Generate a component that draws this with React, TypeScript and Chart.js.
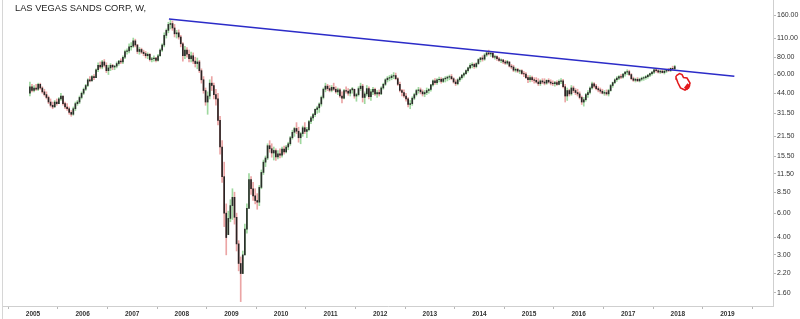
import React, { useEffect, useRef } from "react";
import { Chart, registerables } from "chart.js";

Chart.register(...registerables);

const chartTitle = "LAS VEGAS SANDS CORP, W,";

// x axis (decimal years) and right log price axis ticks
const yearTicks = [2005, 2006, 2007, 2008, 2009, 2010, 2011, 2012, 2013, 2014, 2015, 2016, 2017, 2018, 2019];
const priceTicks = [1.6, 2.2, 3, 4, 6, 8.5, 11.5, 15.5, 21.5, 31.5, 44, 60, 80, 110, 160];
const xMin = 2004.395;
const xMax = 2019.919;
const yMin = 1.283;
const yMax = 207;

// first bar: second half of December 2004, one bar per half-month
const startYear = 2004;
const startSlot = 22;
const firstOpen = 44;

const highs = [
  53, 51,
  50, 51, 52, 52, 49, 47, 45, 42, 40, 38, 39, 40, 41, 44, 42, 38, 37, 35, 33, 35, 38, 39, 42, 45,
  48, 51, 56, 58, 59, 60, 66, 73, 74, 76, 77, 73, 70, 72, 71, 70, 74, 76, 78, 82, 90, 92, 100, 102,
  110, 108, 99, 94, 93, 90, 88, 86, 85, 80, 82, 80, 84, 92, 100, 120, 128, 143, 148, 146, 138, 125, 126, 115,
  102, 96, 94, 90, 87, 86, 80, 79, 76, 66, 58, 48, 45, 55, 58, 52, 47, 44, 30, 20, 14, 7, 6.2, 7.5,
  9, 8.5, 6, 3.8, 2.9, 3.2, 5, 7, 11.6, 11, 10, 9, 8.3, 9.5, 12.3, 14.5, 15.5, 19, 20, 19, 18, 17.5, 17, 17.5,
  18, 18.3, 18.5, 19.5, 21.5, 23.8, 25, 27, 25, 23, 25.5, 27, 25, 28, 30, 31.5, 34, 35.5, 37.5, 42, 48, 52, 51, 50,
  50, 52, 49, 48, 47.5, 45, 47, 49, 47.5, 47, 48.5, 47, 44, 49, 52, 51, 45, 50, 49, 47, 48.5, 48, 46, 46.5,
  49, 52, 56, 58, 59, 60, 62, 61.5, 57, 53, 47, 46.5, 44, 41, 39, 41.5, 44, 47, 48.5, 48, 46.5, 46, 48, 47.5,
  51, 55, 56, 56, 57.5, 57, 56.5, 58, 58.5, 59.5, 60, 57, 55, 56, 58, 60, 62, 65, 68, 72, 73, 72.5, 73, 78,
  80, 82, 85, 88, 90, 87, 87.5, 83, 82, 80, 78, 77, 76, 76, 74, 71, 70, 67, 66.5, 65, 65, 63, 62, 59,
  59, 58.5, 57, 57, 56, 55, 56, 56, 55, 56, 55, 54, 53.5, 54, 55, 56, 55.5, 51, 48, 47, 50, 49.5, 47.5, 47,
  45, 42, 41, 44, 46, 49, 53, 52.5, 51, 49, 48, 47, 46, 46.5, 47, 51, 53, 56, 58, 59, 60, 61, 63, 65,
  64.5, 61, 57.5, 56.5, 57, 56.5, 57.5, 58, 59, 60, 61.5, 63, 66, 66.5, 65, 64.5, 65, 64.5, 65.5, 66.5, 67, 69, 70,
];

const lows = [
  42, 45,
  45, 46, 46, 47, 44, 42, 40, 37, 35, 34, 35, 36, 37, 39, 36, 34, 33, 31, 30, 30.5, 33, 36, 37, 40,
  43, 46, 49, 53, 54, 55, 57, 63, 66, 66, 68, 62, 60, 64, 65, 65, 67, 70, 72, 72, 78, 84, 86, 90,
  94, 95, 85, 84, 85, 82, 79, 78, 75, 74, 75, 74, 75, 81, 88, 95, 110, 120, 128, 125, 112, 110, 108, 95,
  75, 78, 80, 74, 74, 72, 68, 66, 62, 52, 44, 36, 31, 40, 46, 40, 36, 26, 16, 10, 4.8, 3, 4.2, 5.2,
  5.4, 5, 3.2, 2.3, 1.38, 2.2, 3, 4.3, 6.5, 8.2, 7.4, 7, 6.4, 6.8, 9, 11.4, 13, 14.6, 16.5, 15.2, 14.5, 14.4, 14.8, 15,
  15.2, 16, 16.3, 17.2, 18.5, 20.5, 21.5, 22.5, 19.5, 19, 21.5, 22.5, 21, 23.5, 26.5, 28, 29.8, 31.5, 32, 35.5, 40, 45, 46, 45,
  45, 46, 44, 43, 41, 37.5, 40, 44, 42.5, 42, 44, 40.5, 38.5, 42, 46, 38, 37, 42, 40, 39, 43, 42.5, 41, 42,
  43, 47, 50, 53, 54, 55, 56, 55, 50, 45, 42, 41, 38.5, 35, 34, 36, 39.5, 42, 44, 43.5, 42, 41.5, 43, 44,
  45.5, 49.5, 51, 51, 53, 52, 52.5, 53, 54, 55, 55, 52, 50, 50.5, 53.5, 55.5, 57.5, 60, 62.5, 66, 67, 66.5, 67, 71,
  74, 75, 76, 81, 83, 81, 79, 77.5, 76, 74.5, 73, 72, 71, 71, 68, 66, 63, 62.5, 62, 61, 60, 58, 56, 52.5,
  53, 53.5, 52, 52, 50, 50, 51.5, 50.5, 51, 52, 50.5, 50, 49.5, 50, 50.5, 51.5, 48, 38, 39, 42, 42.5, 44.5, 43, 42,
  40, 36.5, 35.5, 38.5, 41, 43.5, 47, 48, 46.5, 45, 44, 43.5, 42.5, 42.5, 42, 45.5, 48.5, 51.5, 53.5, 55, 56, 56.5, 58.5, 60,
  59, 55, 53.5, 53, 53.5, 53, 54, 54.5, 55.5, 56.5, 58, 59.5, 61, 62.5, 61.5, 61, 61.5, 60.5, 62, 63, 63, 64.5, 65,
];

const closes = [
  49, 46,
  48, 47, 51, 48, 45, 43, 41, 38, 36, 35, 38, 37, 40, 42, 37, 35, 34, 32, 31, 34, 37, 38, 41, 44,
  47, 50, 55, 54, 58, 57, 65, 70, 68, 74, 70, 64, 67, 70, 68, 69, 72, 75, 74, 80, 88, 89, 95, 96,
  105, 98, 88, 91, 87, 85, 82, 84, 77, 78, 79, 76, 82, 90, 98, 115, 125, 138, 140, 130, 118, 120, 112, 100,
  82, 90, 84, 78, 82, 75, 72, 74, 64, 55, 46, 38, 42, 52, 50, 43, 40, 28, 18, 11, 6, 4, 5.5, 6.8,
  7.8, 5.6, 3.6, 2.6, 2.2, 3, 4.6, 6.5, 10.5, 9, 8, 7.4, 7.2, 9.2, 11.8, 14, 15, 18.4, 17.5, 16.3, 17, 15.3, 16.1, 15.7,
  17.4, 16.6, 18, 19, 21, 23, 24.5, 23.4, 21, 22.5, 24.8, 23.3, 24, 27.5, 29.2, 30.8, 33.6, 34.5, 36.8, 41, 47, 49.5, 47.5, 46.2,
  48.5, 47, 45, 46.5, 42, 40.5, 46, 45.5, 44, 46.5, 47.5, 42, 43, 47.5, 49.5, 41, 43.5, 47.5, 41.5, 45, 47, 43.5, 44.5, 43.5,
  48, 51, 55, 56.5, 57, 58.5, 59, 56, 51, 46, 44.5, 42, 40, 36.5, 37, 40.5, 43, 46, 46.5, 45, 43.5, 44.5, 46, 46.8,
  50.5, 54, 52.5, 55, 55.5, 53.5, 55.8, 56.5, 57.5, 58, 56, 53, 51.5, 55, 57, 59.5, 61, 64, 67, 70, 71, 68.5, 72, 77,
  79, 77.5, 83, 86, 84.5, 85.5, 80, 81, 78, 76, 76.5, 74, 72.5, 74.5, 69, 68, 64.5, 65.5, 63.5, 64, 61, 60.5, 57, 55,
  57, 55, 54.5, 53, 51.5, 54, 53, 52, 54.5, 53, 52, 51.5, 52.5, 51, 53.5, 54, 49, 42, 46, 43.5, 48, 46, 44.5, 43.5,
  41, 38, 39.5, 43, 44.5, 48, 51.5, 49.5, 47.5, 46.5, 45.5, 44, 44.5, 43.5, 46, 50, 52.5, 55, 56.5, 58, 57.5, 60.5, 62.5, 63,
  60, 56, 54.5, 55.5, 54, 55.5, 56.5, 57, 58, 59.5, 61, 62.5, 65, 64, 62.5, 63.5, 62, 63.5, 64.5, 64, 66.5, 66, 68.5,
];

// drawn resistance line (from the 2007 top)
const trendX = [2007.74, 2019.14];
const trendY = [151, 58.3];

// red hand-drawn marker
const markerX = [2017.964, 2018.034, 2018.085, 2018.115, 2018.185, 2018.246, 2018.216, 2018.145, 2018.054, 2018.004, 2017.974, 2017.964];
const markerY = [58.6, 61.0, 60.0, 57.1, 56.6, 52.1, 48.0, 46.4, 48.0, 52.1, 55.7, 58.6];
const markerFillX = [2018.155, 2018.226];
const markerFillY = [47.2, 50.8];

export default function App() {
  const ref = useRef<HTMLCanvasElement>(null);

  useEffect(() => {
    document.body.style.margin = "0";
    const n = Math.min(highs.length, lows.length, closes.length);
    const wick: any[] = [];
    const body: any[] = [];
    const wickColors: string[] = [];
    const bodyColors: string[] = [];
    for (let i = 0; i < n; i++) {
      const t = startYear + (startSlot + i + 0.5) / 24;
      const open = i === 0 ? firstOpen : closes[i - 1];
      const c = closes[i];
      const up = c >= open;
      wick.push({ x: t, y: [lows[i], highs[i]] });
      const lo = Math.max(lows[i], Math.min(open, c));
      const hi = Math.min(highs[i], Math.max(open, c));
      body.push({ x: t, y: [lo, hi] });
      wickColors.push(up ? "#9fd89f" : "#eba5a5");
      bodyColors.push(up ? "#2b2f2b" : "#2a2424");
    }
    const trend = trendX.map((x, i) => ({ x, y: trendY[i] }));
    const marker = markerX.map((x, i) => ({ x, y: markerY[i] }));
    const markerFill = markerFillX.map((x, i) => ({ x, y: markerFillY[i] }));

    const frame = {
      id: "frame",
      beforeDraw(chart: any) {
        const ctx = chart.ctx;
        ctx.save();
        ctx.strokeStyle = "#d6d6d6";
        ctx.lineWidth = 1;
        ctx.beginPath();
        ctx.moveTo(2.5, 0);
        ctx.lineTo(2.5, chart.height);
        ctx.stroke();
        ctx.restore();
      },
    };

    const chart = new Chart(ref.current as HTMLCanvasElement, {
      type: "bar",
      data: {
        datasets: [
          { type: "line", data: trend, borderColor: "#2c2cc8", borderWidth: 1.7, pointRadius: 0, fill: false } as any,
          { type: "line", data: marker, borderColor: "#e31a1c", borderWidth: 1.6, pointRadius: 0, fill: false, tension: 0 } as any,
          { type: "line", data: markerFill, borderColor: "#e31a1c", borderWidth: 4, pointRadius: 0, fill: false } as any,
          { type: "bar", data: body, backgroundColor: bodyColors, barThickness: 1, grouped: false } as any,
          { type: "bar", data: wick, backgroundColor: wickColors, barThickness: 1, grouped: false } as any,
        ],
      },
      options: {
        animation: false,
        responsive: false,
        devicePixelRatio: 1,
        layout: { padding: { left: 3, right: 0, top: 0, bottom: 0 } },
        plugins: { legend: { display: false }, tooltip: { enabled: false } },
        scales: {
          x: {
            type: "linear",
            min: xMin,
            max: xMax,
            offset: false,
            grid: { drawOnChartArea: false, drawTicks: true, tickLength: 3, color: "#b8b8b8" },
            border: { display: true, color: "#cfcfcf" },
            ticks: {
              autoSkip: false,
              maxRotation: 0,
              padding: 1,
              color: "#333",
              font: { family: "'Liberation Sans', Arial, sans-serif", size: 6.5, weight: "bold" },
              callback: (v: any) => String(v),
            },
            afterBuildTicks: (s: any) => {
              s.ticks = yearTicks.map((v) => ({ value: v }));
            },
            afterFit: (s: any) => {
              s.height = 13;
              s.paddingLeft = 0;
              s.paddingRight = 0;
            },
          },
          y: {
            type: "logarithmic",
            position: "right",
            min: yMin,
            max: yMax,
            grid: { drawOnChartArea: false, drawTicks: true, tickLength: 3, color: "#b8b8b8" },
            border: { display: true, color: "#cfcfcf" },
            ticks: {
              autoSkip: false,
              padding: 1,
              color: "#333",
              font: { family: "'Liberation Sans', Arial, sans-serif", size: 7 },
              callback: (v: any) => Number(v).toFixed(2),
            },
            afterBuildTicks: (s: any) => {
              s.ticks = priceTicks.map((v) => ({ value: v }));
            },
            afterFit: (s: any) => {
              s.width = 27;
              s.paddingTop = 0;
              s.paddingBottom = 0;
            },
          },
        },
      } as any,
      plugins: [frame],
    });
    return () => chart.destroy();
  }, []);

  return (
    <div style={{ position: "relative", width: 800, height: 319, background: "#fff" }}>
      <canvas ref={ref} width={800} height={319} style={{ display: "block" }} />
      <div
        style={{
          position: "absolute",
          left: 15,
          top: 2,
          fontFamily: "'Liberation Sans', Arial, sans-serif",
          fontSize: 9.3,
          color: "#222",
          whiteSpace: "nowrap",
          lineHeight: "12px",
        }}
      >
        {chartTitle}
      </div>
    </div>
  );
}
